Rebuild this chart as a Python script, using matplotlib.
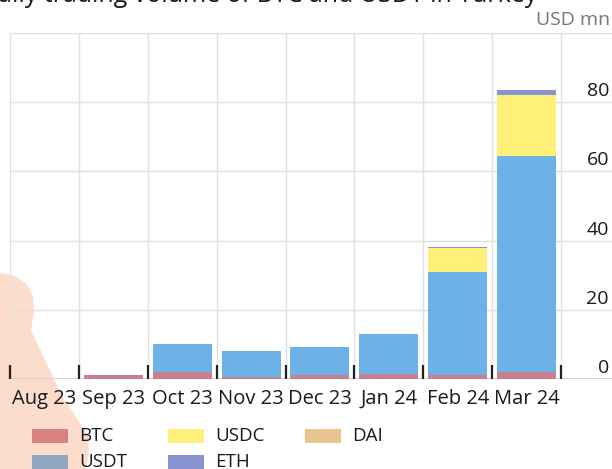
import matplotlib.pyplot as plt
from matplotlib.patches import Polygon, Rectangle
from matplotlib.transforms import blended_transform_factory

# Datos (USD mn)
meses = ["Aug 23", "Sep 23", "Oct 23", "Nov 23", "Dec 23", "Jan 24", "Feb 24", "Mar 24"]
btc = [0.0, 1.1, 2.1, 0.7, 1.2, 1.4, 1.2, 2.1]
usdt = [0.0, 0.0, 8.0, 7.4, 8.1, 11.6, 29.6, 62.4]
usdc = [0.0, 0.0, 0.0, 0.0, 0.0, 0.0, 7.0, 17.7]
dai = [0.0, 0.0, 0.0, 0.0, 0.0, 0.0, 0.0, 0.0]
eth = [0.0, 0.0, 0.0, 0.0, 0.0, 0.0, 0.4, 1.2]
y_ticks = [0, 20, 40, 60, 80]

series = [
    ("BTC", btc, "#c97f8d", "#d98080"),
    ("USDT", usdt, "#6cb2e8", "#8ea6bf"),
    ("USDC", usdc, "#fff07a", "#fff07a"),
    ("DAI", dai, "#e8c590", "#e8c590"),
    ("ETH", eth, "#8a93d2", "#8a93d2"),
]

plt.rcParams["font.family"] = ["Open Sans", "DejaVu Sans"]

W, H = 612, 469
fig = plt.figure(figsize=(W / 100, H / 100), dpi=100)


def fx(px):
    return px / W


def fy(py):
    return 1 - py / H


# Marca de agua de fondo
forma = [(0, 273), (15, 276), (27, 284), (33, 297), (34, 312), (31, 330),
         (46, 362), (62, 396), (78, 420), (88, 436), (89, 452), (86, 469),
         (0, 469)]
fig.patches.append(Polygon([(fx(x), fy(y)) for x, y in forma], closed=True,
                           transform=fig.transFigure, facecolor="#fcdccb",
                           edgecolor="none", zorder=0))

ax = fig.add_axes([fx(10), fy(379), 1 - fx(10), (379 - 33) / H])
ax.set_zorder(2)
ax.set_facecolor("none")
x = list(range(len(meses)))
ax.set_xlim(-0.5, 8.24)
ax.set_ylim(0, 100)

# Rejilla
for v in [20, 40, 60, 80, 100]:
    ax.axhline(v, color="#e0e0e0", lw=1, zorder=0)
ax.axhline(0, color="#d0d0d0", lw=1.2, zorder=0)
for i in range(len(meses) + 1):
    ax.axvline(i - 0.5, color="#e0e0e0", lw=1, zorder=0)

# Barras apiladas
base = [0.0] * len(meses)
for nombre, vals, col, _ in series:
    ax.bar(x, vals, bottom=base, width=0.857, color=col, zorder=2)
    base = [b + v for b, v in zip(base, vals)]

for s in ax.spines.values():
    s.set_visible(False)
ax.set_xticks(x)
ax.set_xticklabels(meses, fontsize=14.5, color="#1a1a1a")
ax.set_xticks([i - 0.5 for i in range(len(meses) + 1)], minor=True)
ax.tick_params(axis="x", which="major", length=0, pad=7)
ax.tick_params(axis="x", which="minor", direction="in", length=10, width=1.6,
               color="#222222")
ax.set_yticks([])

trans = blended_transform_factory(ax.transAxes, ax.transData)
for v in y_ticks:
    ax.annotate(str(v), xy=(0.995, v), xycoords=trans, xytext=(0, 1.5),
                textcoords="offset points", ha="right", va="bottom",
                fontsize=14, color="#1a1a1a")

fig.text(fx(610), fy(20), "USD mn", ha="right", va="center", fontsize=14,
         color="#777777")
fig.text(fx(-20), fy(2.5), "Daily trading volume of BTC and USDT in Turkey",
         ha="left", va="baseline", fontsize=18, color="#1a1a1a")

# Leyenda manual
pos = {"BTC": (32, 436), "USDC": (168, 436), "DAI": (305, 436),
       "USDT": (32, 462), "ETH": (168, 462)}
for nombre, vals, _, col_ley in series:
    px, py = pos[nombre]
    fig.patches.append(Rectangle((fx(px), fy(py + 7)), 36 / W, 14 / H,
                                 transform=fig.transFigure, facecolor=col_ley,
                                 edgecolor="none", zorder=1))
    fig.text(fx(px + 47), fy(py), nombre, ha="left", va="center",
             fontsize=13.5, color="#1a1a1a")

fig.savefig("out.png", dpi=100)
